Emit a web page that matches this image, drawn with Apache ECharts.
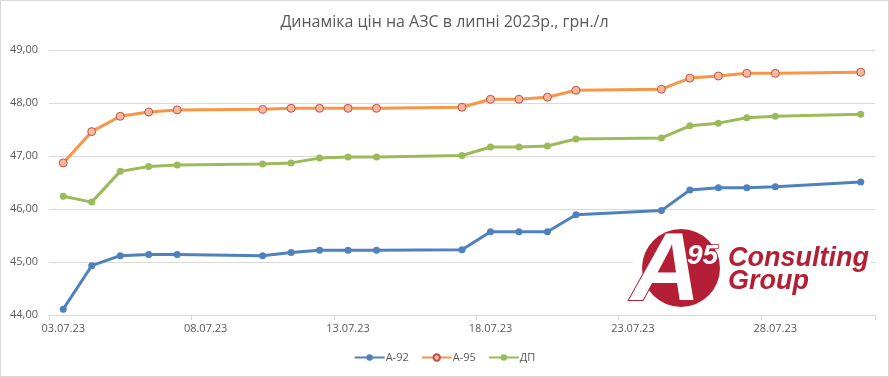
<!DOCTYPE html>
<html>
<head>
<meta charset="utf-8">
<script src="https://cdn.jsdelivr.net/npm/echarts@6/dist/echarts.min.js"></script>
<style>
  html, body { margin: 0; padding: 0; background: #fff; }
  #chart { width: 887px; height: 375px; border: 1px solid #d9d9d9; }
</style>
</head>
<body>
<div id="chart"></div>
<script>
// all calendar days on the axis
const days = ['03.07.23', '04.07.23', '05.07.23', '06.07.23', '07.07.23', '08.07.23', '09.07.23',
  '10.07.23', '11.07.23', '12.07.23', '13.07.23', '14.07.23', '15.07.23', '16.07.23',
  '17.07.23', '18.07.23', '19.07.23', '20.07.23', '21.07.23', '22.07.23', '23.07.23',
  '24.07.23', '25.07.23', '26.07.23', '27.07.23', '28.07.23', '29.07.23', '30.07.23', '31.07.23']

// days with price records
const dates = ['03.07.23', '04.07.23', '05.07.23', '06.07.23', '07.07.23', '10.07.23', '11.07.23',
  '12.07.23', '13.07.23', '14.07.23', '17.07.23', '18.07.23', '19.07.23', '20.07.23', '21.07.23',
  '24.07.23', '25.07.23', '26.07.23', '27.07.23', '28.07.23', '31.07.23']

const a92 = [44.11, 44.93, 45.12, 45.14, 45.14, 45.12, 45.18, 45.22, 45.22, 45.22, 45.23,
  45.57, 45.57, 45.57, 45.89, 45.97, 46.36, 46.40, 46.40, 46.42, 46.51]
const a95 = [46.87, 47.46, 47.75, 47.83, 47.87, 47.88, 47.90, 47.90, 47.90, 47.90, 47.92,
  48.07, 48.07, 48.11, 48.24, 48.26, 48.47, 48.51, 48.56, 48.56, 48.58]
const dp = [46.24, 46.13, 46.71, 46.80, 46.83, 46.85, 46.87, 46.96, 46.98, 46.98, 47.01,
  47.17, 47.17, 47.19, 47.32, 47.34, 47.57, 47.62, 47.72, 47.75, 47.79]

const pairs = vals => dates.map((d, i) => [d, vals[i]])

const chart = echarts.init(document.getElementById('chart'))
const logoRed = '#b51f35'

chart.setOption({
  animation: false,
  title: {
    text: 'Динаміка цін на АЗС в липні 2023р., грн./л',
    left: 'center',
    top: 8,
    textStyle: { fontFamily: 'Open Sans', fontSize: 16, fontWeight: 'normal', color: '#595959' }
  },
  legend: {
    bottom: 8,
    left: 'center',
    itemWidth: 30,
    itemHeight: 8,
    itemGap: 12,
    textStyle: { fontFamily: 'Open Sans', fontSize: 11, color: '#595959', padding: [0, 0, 0, -4] },
    data: ['А-92', 'А-95', 'ДП']
  },
  grid: { left: 48, right: 13, top: 49, bottom: 61 },
  xAxis: {
    type: 'category',
    data: days,
    boundaryGap: true,
    axisLine: { lineStyle: { color: '#d9d9d9' } },
    axisTick: { show: true, interval: 4, length: 5, lineStyle: { color: '#d9d9d9' } },
    axisLabel: { interval: 4, color: '#595959', fontFamily: 'Open Sans', fontSize: 11, margin: 8 }
  },
  yAxis: {
    type: 'value',
    min: 44,
    max: 49,
    interval: 1,
    axisLine: { show: false },
    axisTick: { show: false },
    splitLine: { lineStyle: { color: '#d9d9d9' } },
    axisLabel: {
      color: '#595959', fontFamily: 'Open Sans', fontSize: 11, margin: 11,
      formatter: v => v.toFixed(2).replace('.', ',')
    }
  },
  series: [
    {
      name: 'А-92', type: 'line', data: pairs(a92),
      symbol: 'circle', symbolSize: 7,
      lineStyle: { width: 3, color: '#4f81bd' },
      itemStyle: { color: '#4f81bd' }
    },
    {
      name: 'А-95', type: 'line', data: pairs(a95),
      symbol: 'circle', symbolSize: 8,
      lineStyle: { width: 3, color: '#f79646' },
      itemStyle: { color: '#f9b898', borderColor: '#c0504d', borderWidth: 1 }
    },
    {
      name: 'ДП', type: 'line', data: pairs(dp),
      symbol: 'circle', symbolSize: 7,
      lineStyle: { width: 3, color: '#9bbb59' },
      itemStyle: { color: '#9bbb59' }
    }
  ],
  // A95 Consulting Group logo
  graphic: [
    { type: 'rect', shape: { x: 632, y: 222, width: 238, height: 88 }, style: { fill: '#fff' }, z: 10 },
    { type: 'circle', shape: { cx: 680, cy: 267, r: 39 }, style: { fill: logoRed }, z: 11 },
    {
      type: 'text', x: 630, y: 321, z: 12,
      style: {
        text: 'A', fill: '#fff', stroke: logoRed, lineWidth: 2,
        font: 'italic bold 96px "Liberation Sans"', verticalAlign: 'bottom'
      }
    },
    {
      type: 'text', x: 686, y: 269, z: 12,
      style: {
        text: '95', fill: '#fff', stroke: logoRed, lineWidth: 1.5,
        font: 'italic bold 28px "Liberation Sans"', verticalAlign: 'bottom'
      }
    },
    {
      type: 'text', x: 727, y: 271, z: 12,
      style: {
        text: 'Consulting', fill: logoRed,
        font: 'italic bold 27px "Liberation Sans"', verticalAlign: 'bottom'
      }
    },
    {
      type: 'text', x: 727, y: 294, z: 12,
      style: {
        text: 'Group', fill: logoRed,
        font: 'italic bold 27px "Liberation Sans"', verticalAlign: 'bottom'
      }
    }
  ]
})
</script>
</body>
</html>
